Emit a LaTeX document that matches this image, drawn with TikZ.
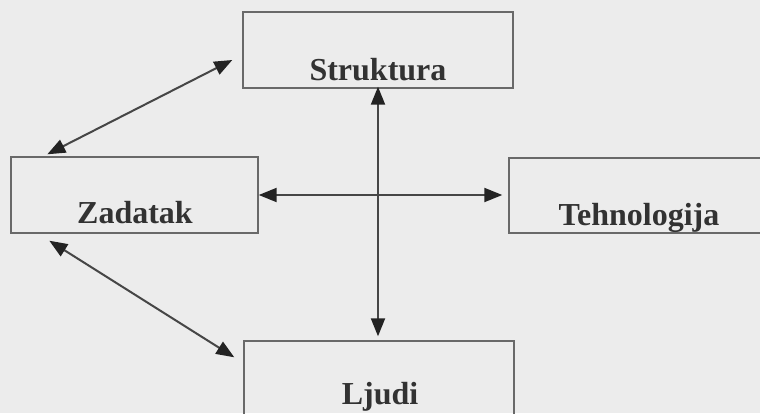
\documentclass[tikz,border=0pt]{standalone}
\usepackage{fontspec}
\setmainfont{Liberation Serif}
\usetikzlibrary{arrows.meta,calc}
\definecolor{bgc}{RGB}{236,236,236}
\definecolor{boxc}{RGB}{105,105,105}
\definecolor{linec}{RGB}{70,70,70}
\definecolor{headc}{RGB}{35,35,35}
\definecolor{txtc}{RGB}{50,50,50}
\tikzset{
  box/.style={draw=boxc, line width=1.4pt, rectangle, inner sep=0pt},
  lbl/.style={anchor=base, text=txtc, font=\fontsize{32}{38}\selectfont\bfseries, inner sep=0pt},
  link/.style={draw=linec, line width=2pt,
    {Triangle[length=18pt,width=14pt,fill=headc,color=headc]}-{Triangle[length=18pt,width=14pt,fill=headc,color=headc]}}
}
\begin{document}
\begin{tikzpicture}[x=1pt,y=-1pt]
  \useasboundingbox (0,0) rectangle (760,413);
  \fill[bgc] (0,0) rectangle (760,413);
  \clip (0,0) rectangle (760,413);

  % boxes
  \node[box, minimum width=270pt, minimum height=76pt] (s) at (378,50) {};
  \node[box, minimum width=247pt, minimum height=76pt] (z) at (134.5,195) {};
  \node[box, minimum width=300pt, minimum height=75pt] (t) at (659,195.5) {};
  \node[box, minimum width=270pt, minimum height=110pt] (l) at (379,396) {};

  % labels
  \node[lbl] (sl) at (378,80) {Struktura};
  \node[lbl] (zl) at (135,223) {Zadatak};
  \node[lbl] (tl) at (639,225) {Tehnologija};
  \node[lbl] (ll) at (380,404) {Ljudi};

  % ends of the diagonal links
  \coordinate (zs1) at ($(z.north west)+(37,-2)$);
  \coordinate (sz1) at ($(s.west)+(-10,10)$);
  \coordinate (zl1) at ($(z.south west)+(39,7)$);
  \coordinate (lz1) at ($(l.north west)+(-9,17)$);

  % links
  \draw[link] (zs1) -- (sz1);
  \draw[link] (zl1) -- (lz1);
  \draw[link, shorten <=-2pt, shorten >=4pt] (s.south) -- (s.south |- l.north);
  \draw[link, shorten >=6pt] (z.east) -- (z.east -| t.west);
\end{tikzpicture}
\end{document}
